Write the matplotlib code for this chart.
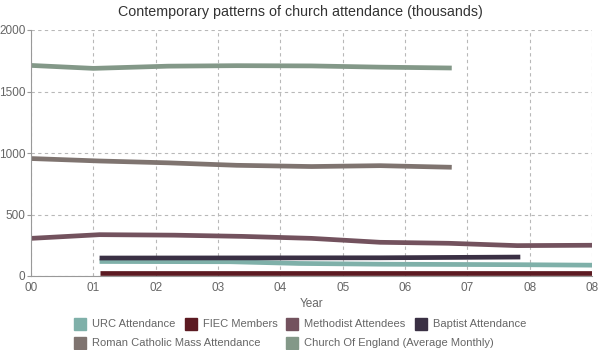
import matplotlib
matplotlib.use("Agg")
import matplotlib.pyplot as plt
from matplotlib.patches import Rectangle

plt.rcParams['font.family'] = ['Liberation Sans', 'DejaVu Sans']

title = "Contemporary patterns of church attendance (thousands)"

coe_x = [2000.0, 2001.0, 2002.2, 2003.3, 2004.5, 2005.6, 2006.75]
coe_y = [1712, 1688, 1706, 1710, 1708, 1698, 1691]

rc_x = [2000.0, 2001.1, 2002.2, 2003.3, 2004.5, 2005.6, 2006.75]
rc_y = [955, 935, 920, 900, 890, 897, 884]

meth_x = [2000.0, 2001.1, 2002.3, 2003.4, 2004.5, 2005.6, 2006.7, 2007.8, 2009.0]
meth_y = [306, 336, 332, 322, 306, 274, 266, 247, 250]

bap_x = [2001.1, 2003.3, 2005.6, 2007.85]
bap_y = [146, 147, 148, 154]

urc_x = [2001.1, 2003.2, 2004.3, 2005.6, 2007.8, 2009.0]
urc_y = [118, 116, 102, 96, 92, 88]

fiec_x = [2001.1, 2004.3, 2007.8, 2009.0]
fiec_y = [22, 22, 22, 22]

xticks = [2000, 2001, 2002, 2003, 2004, 2005, 2006, 2007, 2008, 2009]
xticklabels = ["00", "01", "02", "03", "04", "05", "06", "07", "08", "08"]
yticks = [0, 500, 1000, 1500, 2000]

series = [
    ("URC Attendance", urc_x, urc_y, "#7fb0a9"),
    ("FIEC Members", fiec_x, fiec_y, "#5c1a22"),
    ("Methodist Attendees", meth_x, meth_y, "#73525e"),
    ("Baptist Attendance", bap_x, bap_y, "#3a3044"),
    ("Roman Catholic Mass Attendance", rc_x, rc_y, "#7f7470"),
    ("Church Of England (Average Monthly)", coe_x, coe_y, "#839888"),
]

W, H = 600, 350
fig = plt.figure(figsize=(6, 3.5), dpi=100)
ax = fig.add_axes([31 / W, 1 - 276 / H, (592 - 31) / W, (276 - 30) / H])

for name, xs, ys, col in series:
    ax.plot(xs, ys, color=col, lw=3.4, solid_capstyle='butt', solid_joinstyle='round')

ax.set_xlim(2000, 2009)
ax.set_ylim(0, 2000)
ax.set_xticks(xticks)
ax.set_xticklabels(xticklabels)
ax.set_yticks(yticks)
ax.grid(True, color="#b8b8b8", ls=(0, (3, 3)), lw=0.8)
ax.set_axisbelow(True)
for s in ["top", "right"]:
    ax.spines[s].set_visible(False)
for s in ["left", "bottom"]:
    ax.spines[s].set_color("#999999")
    ax.spines[s].set_linewidth(0.8)
ax.tick_params(axis='both', colors="#999999", labelcolor="#666666", labelsize=8.5,
               length=3, width=0.8)
ax.tick_params(axis='x', length=0, pad=4)
ax.tick_params(axis='y', pad=1)
ax.set_xlabel("Year", fontsize=8.5, color="#666666", labelpad=3)

fig.text(0.5, 1 - 12 / H, title, ha='center', va='center', fontsize=10.3, color="#333333")

legend_items = [
    (74, 324, 0), (185, 324, 1), (286, 324, 2), (415, 324, 3),
    (74, 343, 4), (286, 343, 5),
]
for lx, ly, idx in legend_items:
    name, _, _, col = series[idx]
    fig.patches.append(Rectangle((lx / W, 1 - (ly + 6) / H), 12 / W, 12 / H,
                                 transform=fig.transFigure, color=col, figure=fig))
    fig.text((lx + 18) / W, 1 - ly / H, name, ha='left', va='center',
             fontsize=8, color="#666666")

fig.savefig("out.png", dpi=100)
